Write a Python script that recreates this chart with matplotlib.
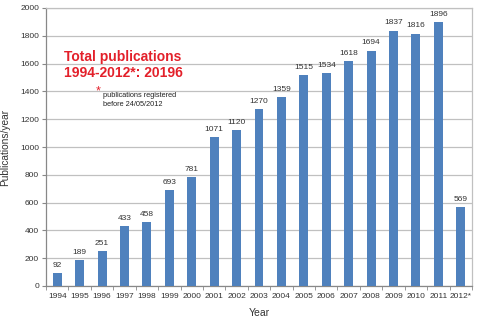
import matplotlib
matplotlib.use("Agg")
import matplotlib.pyplot as plt

years = ["1994", "1995", "1996", "1997", "1998", "1999", "2000", "2001", "2002",
         "2003", "2004", "2005", "2006", "2007", "2008", "2009", "2010", "2011", "2012*"]
publications = [92, 189, 251, 433, 458, 693, 781, 1071, 1120, 1270, 1359, 1515,
                1534, 1618, 1694, 1837, 1816, 1896, 569]
y_ticks = list(range(0, 2001, 200))

plt.rcParams['font.family'] = ['Liberation Sans', 'DejaVu Sans']

fig = plt.figure(figsize=(4.8, 3.22), dpi=100)
ax = fig.add_axes([46 / 480, 1 - 286 / 322, 426 / 480, 278 / 322])

x = list(range(len(years)))
ax.bar(x, publications, width=0.4, color="#4F81BD", zorder=3)

for xi, v in zip(x, publications):
    ax.text(xi, v + 30, str(v), ha="center", va="bottom", fontsize=6, color="#333333")

ax.set_xlim(-0.5, len(years) - 0.5)
ax.set_ylim(0, 2000)
ax.set_yticks(y_ticks)
ax.set_yticklabels([str(t) for t in y_ticks], fontsize=6, color="#333333")
ax.set_xticks(x)
ax.set_xticklabels(years, fontsize=6, color="#333333")
ax.set_xticks([i - 0.5 for i in range(len(years) + 1)], minor=True)
ax.tick_params(axis="x", which="major", length=0, pad=5)
ax.tick_params(axis="x", which="minor", length=3, color="#888888", direction="out")
ax.tick_params(axis="y", length=3, color="#888888", pad=2)

ax.grid(axis="y", color="#c0c0c0", linewidth=0.9, zorder=0)
for side in ["top", "right"]:
    ax.spines[side].set_color("#c0c0c0")
    ax.spines[side].set_linewidth(0.9)
for side in ["left", "bottom"]:
    ax.spines[side].set_color("#888888")
    ax.spines[side].set_linewidth(0.9)

ax.set_xlabel("Year", fontsize=7.5, color="#333333", labelpad=6)
ax.set_ylabel("Publications/year", fontsize=7.3, color="#333333", labelpad=7)

fig.text(64 / 480, 1 - 65 / 322, "Total publications\n1994-2012*: 20196",
         fontsize=10, fontweight="bold", color="#E3202A", ha="left", va="center",
         linespacing=1.15)
fig.text(96 / 480, 1 - 91 / 322, "*", fontsize=9, color="#E3202A", ha="left", va="center")
fig.text(103 / 480, 1 - 100 / 322, "publications registered\nbefore 24/05/2012",
         fontsize=5.3, color="#222222", ha="left", va="center", linespacing=1.3)

fig.savefig("out.png", dpi=100)
